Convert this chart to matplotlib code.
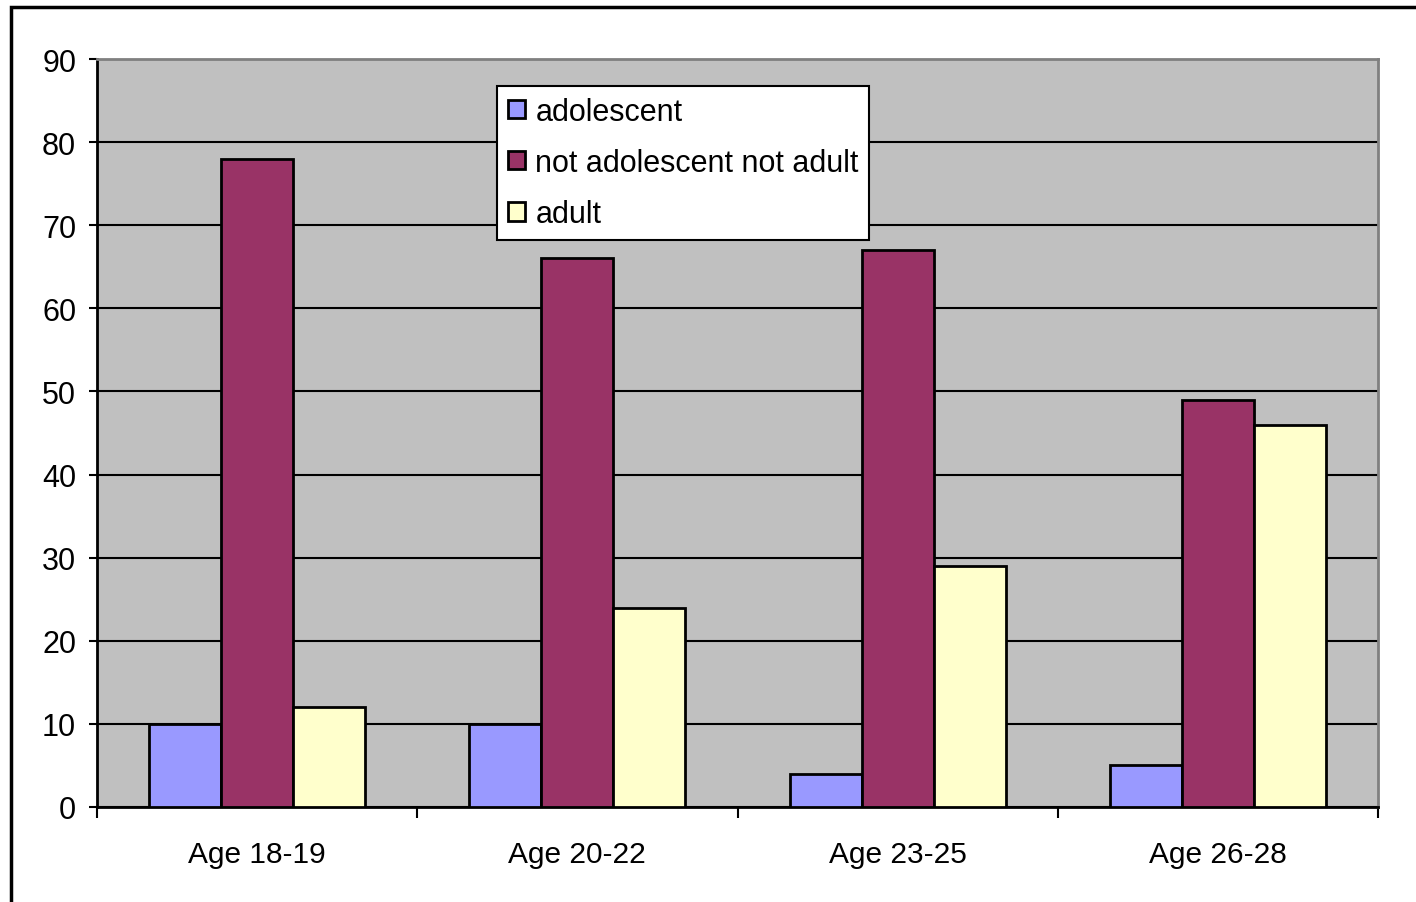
import numpy as np
import matplotlib
matplotlib.use("Agg")
import matplotlib.pyplot as plt
import matplotlib.patches as patches

plt.rcParams['font.family'] = ['Liberation Sans', 'DejaVu Sans']

categories = ["Age 18-19", "Age 20-22", "Age 23-25", "Age 26-28"]
series_names = ["adolescent", "not adolescent not adult", "adult"]
adolescent = [10, 10, 4, 5]
not_adol_not_adult = [78, 66, 67, 49]
adult = [12, 24, 29, 46]
colors = ["#9999FF", "#993366", "#FFFFCC"]

fig = plt.figure(figsize=(14.16, 9.03), dpi=100)
ax = fig.add_axes([97/1416, 95/903, 1281/1416, 748/903])
ax.set_facecolor("#C0C0C0")

x = np.arange(len(categories))
w = 0.225
for i, (vals, name) in enumerate(zip([adolescent, not_adol_not_adult, adult], series_names)):
    ax.bar(x + (i - 1) * w, vals, w, color=colors[i], edgecolor="black",
           linewidth=2, label=name, zorder=3)

ax.set_xlim(-0.5, len(categories) - 0.5)
ax.set_ylim(0, 90)
ax.set_yticks(np.arange(0, 91, 10))
ax.yaxis.grid(True, color="black", linewidth=1.5, zorder=1)
ax.set_axisbelow(True)

ax.set_xticks(np.arange(-0.5, len(categories)), labels=[""] * (len(categories) + 1))
ax.set_xticks(x, labels=categories, minor=True)
ax.tick_params(axis="x", which="major", length=8, width=1.5, direction="out")
ax.tick_params(axis="x", which="minor", length=0, pad=24, labelsize=21.5)
ax.tick_params(axis="y", length=6, width=1.5, direction="out", pad=9, labelsize=22)

ax.spines["left"].set_linewidth(2)
ax.spines["bottom"].set_linewidth(2)
ax.spines["top"].set_color("#808080")
ax.spines["right"].set_color("#808080")
ax.spines["top"].set_linewidth(2)
ax.spines["right"].set_linewidth(2)

leg = ax.legend(loc="upper left", bbox_to_anchor=(0.3123, 0.964), fontsize=22,
                frameon=True, fancybox=False, framealpha=1, edgecolor="black",
                handlelength=0.55, handleheight=0.55, handletextpad=0.35,
                labelspacing=0.7, borderpad=0.35, borderaxespad=0)
leg.get_frame().set_linewidth(1.5)

frame = patches.Rectangle((11/1416, -0.05), 1.1, 1 - 8/903 + 0.05, transform=fig.transFigure,
                          fill=False, edgecolor="black", linewidth=2.5)
fig.patches.append(frame)

fig.savefig("out.png", dpi=100)
